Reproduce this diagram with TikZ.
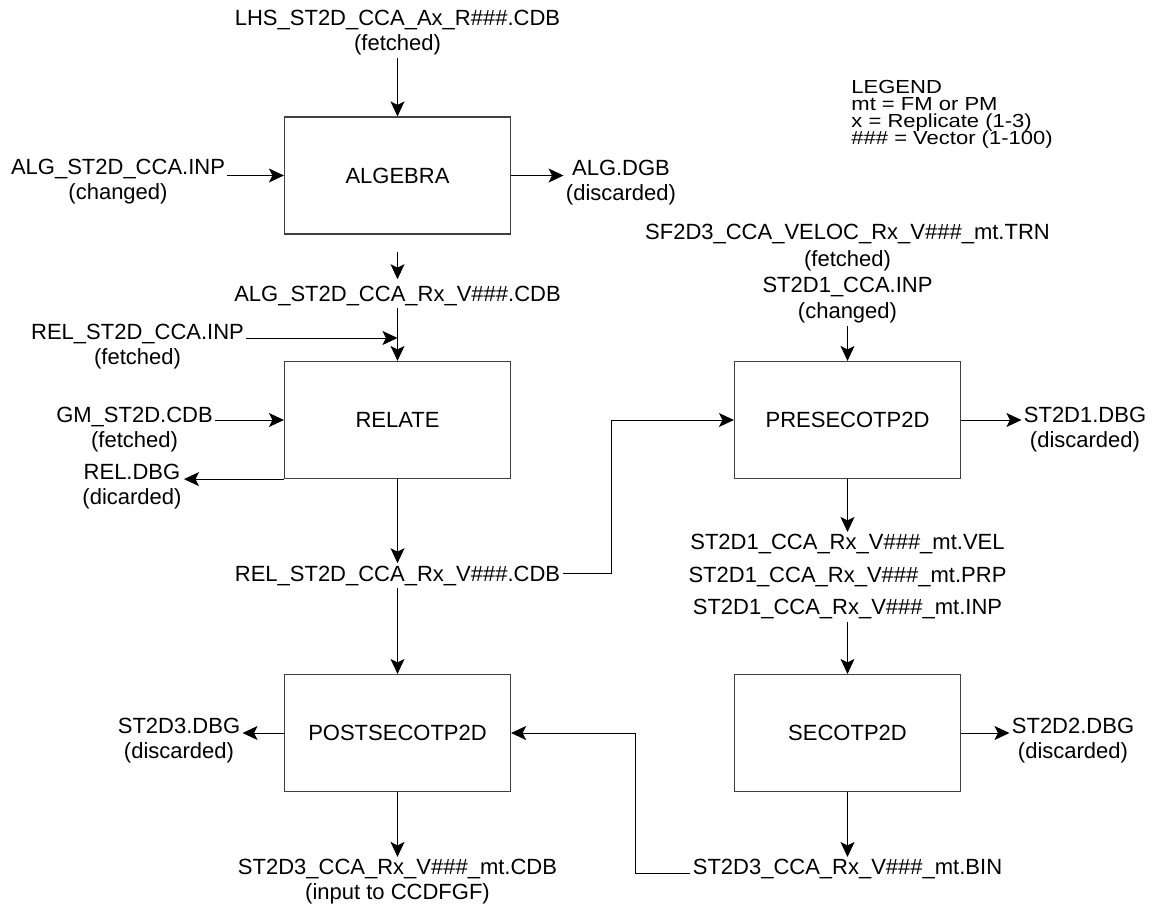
\documentclass[tikz,border=0pt]{standalone}
\usepackage{fontspec}
\setmainfont{Liberation Sans}
\usepackage{tikz}
\usetikzlibrary{arrows.meta,positioning}

\newcommand{\legfont}{\fontsize{22}{19.8}\selectfont\setlength{\lineskiplimit}{-30pt}}

\begin{document}
\begin{tikzpicture}[->,>={Stealth[length=15pt,width=14pt,inset=3.5pt]},
x=1pt,y=1pt,line width=0.9pt,
font=\fontsize{22}{25}\selectfont]

\tikzstyle{proc}=[rectangle, minimum width=226pt, minimum height=117pt, text centered,
draw=black!75, line width=1.2pt]

\tikzstyle{lbl}=[align=center, inner sep=2pt, draw=none]

\useasboundingbox (0,0) rectangle (1153,-905);

%process boxes
\node[proc] (alg) at (397.5,-175.5) {ALGEBRA};

\node[proc]
(rel) [below of=alg, node distance=244.5pt]
{RELATE};

\node[proc]
(post) [below of=rel, node distance=313pt]
{POSTSECOTP2D};

\node[proc]
(pre) [right of=rel, node distance=450pt]
{PRESECOTP2D};

\node[proc]
(seco) [below of=pre, node distance=313pt]
{SECOTP2D};

%files round ALGEBRA
\node[lbl]
(lhs) [above of=alg, node distance=142.5pt]
{LHS\_ST2D\_CCA\_Ax\_R\#\#\#.CDB\\(fetched)};

\node[lbl]
(alginp) [left of=alg, node distance=279.5pt, yshift=-6.5pt]
{ALG\_ST2D\_CCA.INP\\(changed)};

\node[lbl]
(algdbg) [right of=alg, node distance=223.5pt, yshift=-7.5pt]
{ALG.DGB\\(discarded)};

\node[lbl]
(algout) [below of=alg, node distance=120pt]
{ALG\_ST2D\_CCA\_Rx\_V\#\#\#.CDB};

\coordinate[below of=algout, node distance=42.5pt] (relj);

%files round RELATE
\node[lbl]
(relinp) [left of=rel, node distance=260pt, yshift=73.2pt]
{REL\_ST2D\_CCA.INP\\(fetched)};

\node[lbl]
(gm) [left of=rel, node distance=263pt, yshift=-10pt]
{GM\_ST2D.CDB\\(fetched)};

\node[lbl]
(reldbg) [left of=rel, node distance=265.5pt, yshift=-67pt]
{REL.DBG\\(dicarded)};

\node[lbl]
(relout) [below of=rel, node distance=155.5pt]
{REL\_ST2D\_CCA\_Rx\_V\#\#\#.CDB};

%files round PRESECOTP2D
\node[lbl, font=\fontsize{22}{26.3}\selectfont]
(prein) [above of=pre, node distance=146.2pt]
{SF2D3\_CCA\_VELOC\_Rx\_V\#\#\#\_mt.TRN\\(fetched)\\ST2D1\_CCA.INP\\(changed)};

\node[lbl]
(predbg) [right of=pre, node distance=237.5pt, yshift=-10pt]
{ST2D1.DBG\\(discarded)};

\node[lbl, font=\fontsize{22}{32.5}\selectfont]
(preout) [below of=pre, node distance=156.8pt]
{ST2D1\_CCA\_Rx\_V\#\#\#\_mt.VEL\\ST2D1\_CCA\_Rx\_V\#\#\#\_mt.PRP\\ST2D1\_CCA\_Rx\_V\#\#\#\_mt.INP};

%files round SECOTP2D
\node[lbl]
(secodbg) [right of=seco, node distance=225.5pt, yshift=-8pt]
{ST2D2.DBG\\(discarded)};

\node[lbl]
(secoout) [below of=seco, node distance=136.3pt]
{ST2D3\_CCA\_Rx\_V\#\#\#\_mt.BIN};

%files round POSTSECOTP2D
\node[lbl]
(postdbg) [left of=post, node distance=218.5pt, yshift=-8pt]
{ST2D3.DBG\\(discarded)};

\node[lbl]
(postout) [below of=post, node distance=148.8pt]
{ST2D3\_CCA\_Rx\_V\#\#\#\_mt.CDB\\(input to CCDFGF)};

%legend
\node[lbl, align=left, anchor=north west, font=\legfont, yscale=0.86, transform shape]
(legend) at (849,-78.4)
{LEGEND\\mt = FM or PM\\x = Replicate (1-3)\\\#\#\# = Vector (1-100)};

\path[->] (lhs) edge (alg);
\draw[->] (alginp.east |- alg) -- (alg);
\draw[->] (alg) -- (algdbg.west |- alg);
\path[->] (alg) edge[shorten <=17pt, shorten >=4pt] (algout);
\path[->] (algout) edge (rel);
\draw[->] (relinp.east |- relj) -- (relj);
\draw[->] (gm.east |- rel) -- (rel);
\draw[->] (rel.south west) -- (reldbg.east |- rel.south west);
\path[->] (rel) edge (relout);
\path[->] (relout) edge (post);
\draw[->] ([yshift=2.5pt]relout.east) -- ++(49,0) |- (pre);
\path[->] (prein) edge (pre);
\draw[->] (pre) -- (predbg.west |- pre);
\path[->] (pre) edge (preout);
\path[->] (preout) edge (seco);
\draw[->] (seco) -- (secodbg.west |- seco);
\path[->] (seco) edge (secoout);
\draw[->] ([yshift=-4pt]secoout.west) -- ++(-55,0) |- (post);
\draw[->] (post) -- (postdbg.east |- post);
\path[->] (post) edge (postout);

\end{tikzpicture}
\end{document}
